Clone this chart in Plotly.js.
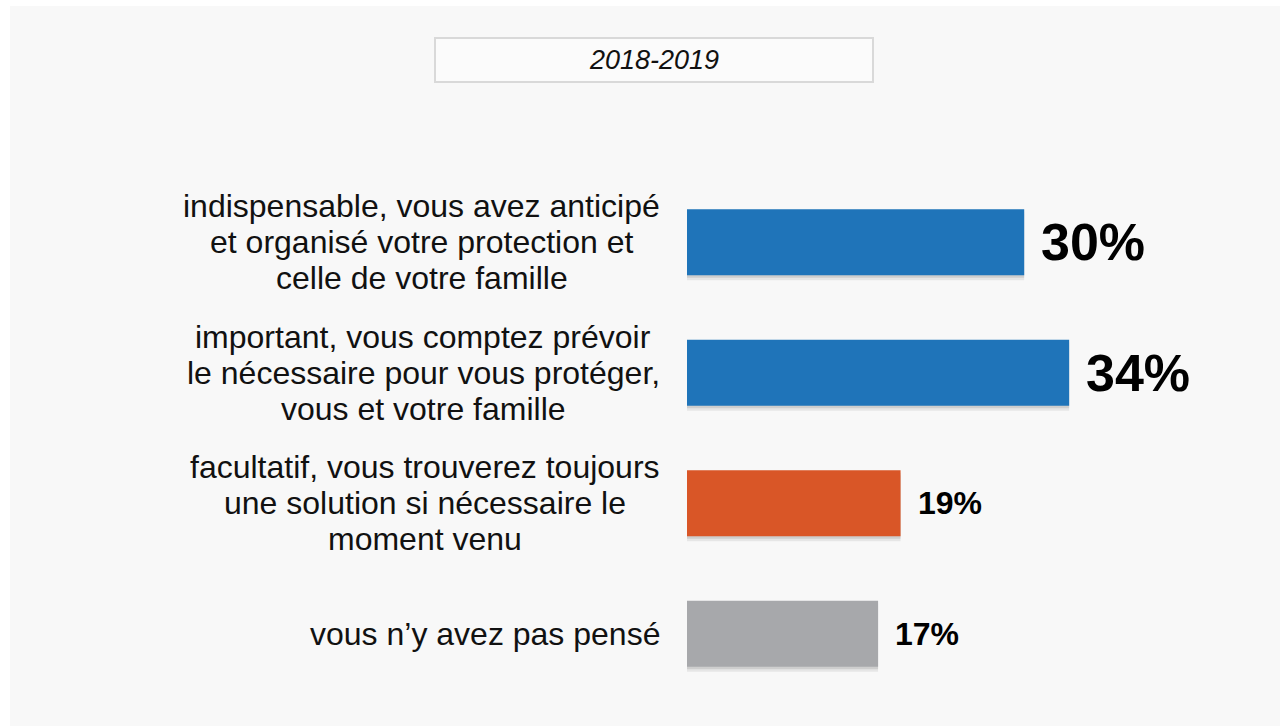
<!DOCTYPE html>
<html>
<head>
<meta charset="utf-8">
<script src="https://cdn.plot.ly/plotly-3.0.1.min.js"></script>
<style>
  html, body { margin: 0; padding: 0; background: #ffffff; width: 1280px; height: 726px; overflow: hidden; }
  #chart { position: absolute; left: 10px; top: 6px; width: 1270px; height: 720px; }
</style>
</head>
<body>
<div id="chart"></div>
<script>
// ---- data ----
const periodLabel = "2018-2019";
const categoryLines = [
  ["indispensable, vous avez anticipé", "et organisé votre protection et", "celle de votre famille"],
  ["important, vous comptez prévoir", "le nécessaire pour vous protéger,", "vous et votre famille"],
  ["facultatif, vous trouverez toujours", "une solution si nécessaire le", "moment venu"],
  ["vous n’y avez pas pensé"]
];
const values = [30, 34, 19, 17];
const valueLabels = ["30%", "34%", "19%", "17%"];
const barColors = ["#1f74b9", "#1f74b9", "#d95627", "#a7a8ab"];
const labelSizes = [52, 52, 32, 32];

// ---- layout geometry (pixels inside the chart div) ----
const W = 1270, H = 720;
const ML = 677, MR = 33, MT = 171, MB = 27;
const PW = W - ML - MR, PH = H - MT - MB;
const PX_PER_UNIT = 11.24;
const xMax = PW / PX_PER_UNIT;
const px2paperX = px => (px - ML) / PW;
const px2paperY = py => (H - MB - py) / PH;

const idx = categoryLines.map((_, i) => i);
const barWidth = 0.506;

// measure label text
const cv = document.createElement('canvas').getContext('2d');
cv.font = "32px 'Liberation Sans', Arial, sans-serif";

const annotations = [];
categoryLines.forEach((lines, i) => {
  const maxW = Math.max(...lines.map(t => cv.measureText(t).width));
  const n = lines.length;
  lines.forEach((t, k) => {
    annotations.push({
      text: t, xref: 'paper', yref: 'y', x: 0, y: i,
      xanchor: 'center', yanchor: 'middle', showarrow: false,
      xshift: -(27 + maxW / 2), yshift: ((n - 1) / 2 - k) * 36,
      font: { family: "'Liberation Sans', Arial, sans-serif", size: 32, color: '#111111' }
    });
  });
});
values.forEach((v, i) => {
  annotations.push({
    text: valueLabels[i], xref: 'x', yref: 'y', x: v, y: i,
    xanchor: 'left', yanchor: 'middle', showarrow: false, xshift: 15,
    font: { family: "'Liberation Sans', Arial, sans-serif", size: labelSizes[i], color: '#000000', weight: 'bold' }
  });
});
annotations.push({
  text: periodLabel, xref: 'paper', yref: 'paper',
  x: px2paperX(644), y: px2paperY(54), xanchor: 'center', yanchor: 'middle', showarrow: false,
  font: { family: "'Liberation Sans', Arial, sans-serif", size: 27, color: '#111111', style: 'italic' }
});

const shapes = [{
  type: 'rect', xref: 'paper', yref: 'paper',
  x0: px2paperX(425), x1: px2paperX(863), y0: px2paperY(32), y1: px2paperY(76),
  line: { color: '#d9d9d9', width: 2 }, fillcolor: '#fbfbfb', layer: 'below'
}];

const shadow1 = {
  type: 'bar', orientation: 'h', x: values, y: idx,
  width: barWidth, offset: -barWidth / 2 + 5 / 130.5,
  marker: { color: 'rgba(0,0,0,0.07)' }, hoverinfo: 'skip', showlegend: false
};
const shadow2 = {
  type: 'bar', orientation: 'h', x: values, y: idx,
  width: barWidth, offset: -barWidth / 2 + 2.5 / 130.5,
  marker: { color: 'rgba(0,0,0,0.10)' }, hoverinfo: 'skip', showlegend: false
};
const bars = {
  type: 'bar', orientation: 'h', x: values, y: idx,
  width: barWidth, offset: -barWidth / 2,
  marker: { color: barColors }, hoverinfo: 'skip', showlegend: false
};

const layout = {
  width: W, height: H,
  margin: { l: ML, r: MR, t: MT, b: MB, pad: 0 },
  paper_bgcolor: '#f8f8f8', plot_bgcolor: 'rgba(0,0,0,0)',
  barmode: 'overlay',
  xaxis: { range: [0, xMax], visible: false, fixedrange: true },
  yaxis: { range: [3.5, -0.5], visible: false, fixedrange: true },
  annotations: annotations, shapes: shapes, showlegend: false
};

Plotly.newPlot('chart', [shadow1, shadow2, bars], layout, { displayModeBar: false, staticPlot: true });
</script>
</body>
</html>
